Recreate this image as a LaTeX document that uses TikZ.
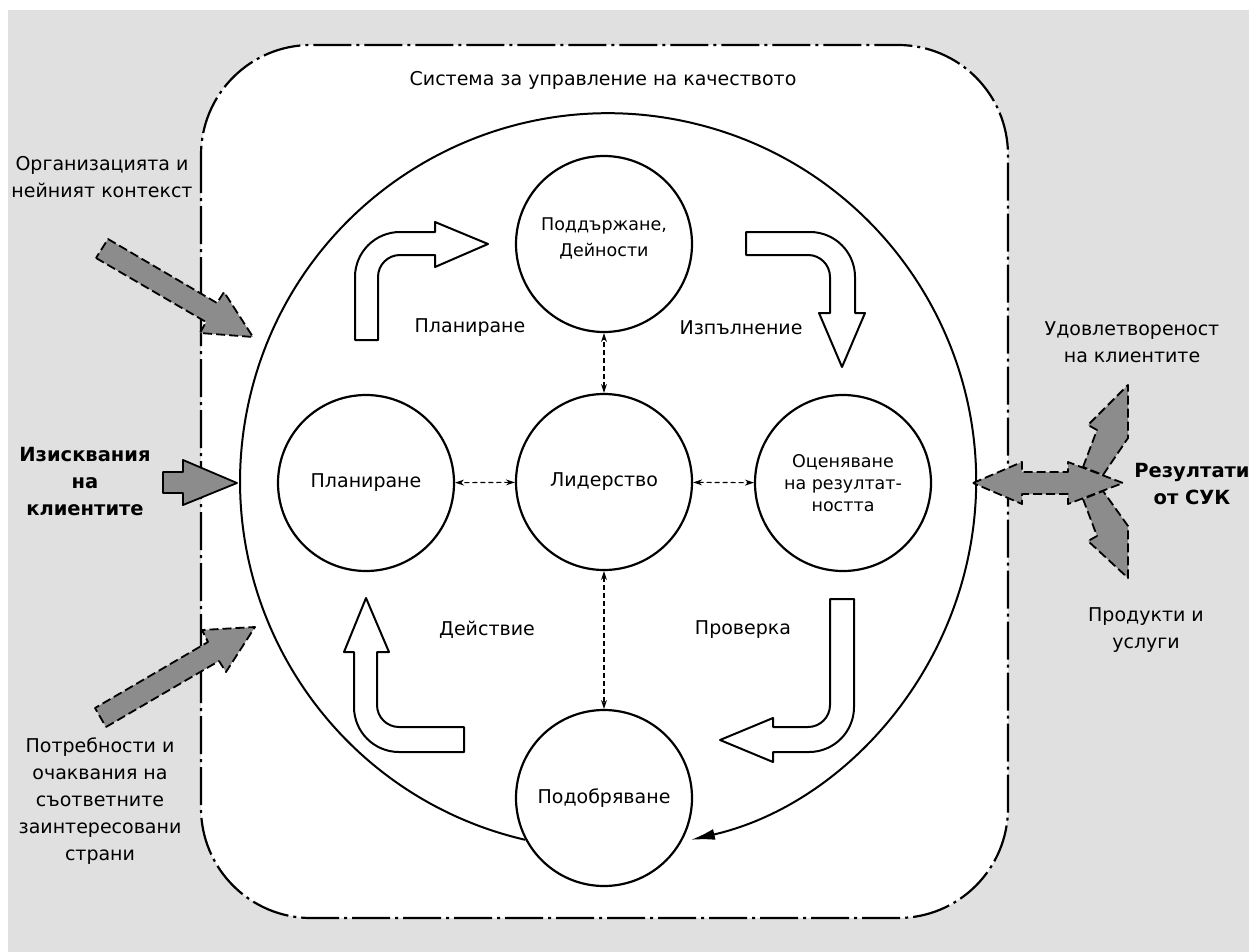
\documentclass[tikz,border=0pt]{standalone}
\usepackage{fontspec}
\setmainfont{DejaVu Sans}
\usetikzlibrary{arrows.meta}

\definecolor{bggrey}{HTML}{E0E0E0}
\definecolor{fatgrey}{HTML}{8C8C8C}

\tikzset{
  stage/.style={circle, draw, line width=2.2pt, minimum size=176pt, inner sep=0pt,
    align=center, font=\fontsize{19}{27}\selectfont},
  smallstage/.style={stage, font=\fontsize{17.5}{22}\selectfont},
  lbl/.style={align=center, inner sep=0pt, font=\fontsize{19}{27}\selectfont},
  smalllbl/.style={lbl, font=\fontsize{17.5}{26}\selectfont},
  boldlbl/.style={lbl, font=\fontsize{19.5}{27}\selectfont\bfseries},
  link/.style={line width=1.1pt, dash pattern=on 5pt off 3pt,
    {Stealth[length=9pt,width=6pt]}-{Stealth[length=9pt,width=6pt]}},
  hollow/.style={draw, fill=white, line width=2pt, line join=round},
  fat/.style={draw, fill=fatgrey, line width=1.8pt, line join=round, dash pattern=on 9pt off 4pt},
  fatsolid/.style={draw, fill=fatgrey, line width=1.8pt, line join=round},
  qmsframe/.style={draw, fill=white, line width=2.2pt, rounded corners=110pt,
    dash pattern=on 38pt off 5pt on 3pt off 5pt},
  cycleline/.style={line width=2pt, -{Latex[length=24pt,width=11pt]}}
}

\begin{document}
\begin{tikzpicture}[x=1pt, y=-1pt]
\useasboundingbox (0,0) rectangle (1249,952);
\fill[white] (0,0) rectangle (1249,952);
\fill[bggrey] (8,10) rectangle (1249,952);

% system frame
\draw[qmsframe] (201,45) rectangle (1008,918);
\node[lbl] (title) at (603,80) {Система за управление на качеството};

% stages
\node[stage] (support) at (604,244) {};
\node[smalllbl] (supporttext) at ([yshift=6pt]support.center) {Поддържане,\\Дейности};
\node[stage] (plan) at (366,483) {Планиране};
\node[stage] (lead) at (604,482) {Лидерство};
\node[smallstage] (eval) at (843,483) {Оценяване\\на резултат-\\ността};
\node[stage] (impr) at (604,798) {Подобряване};

\foreach \a/\b in {lead/support, lead/plan, lead/eval, lead/impr}
  \draw[link] (\a) -- (\b);

% outer cycle
\draw[cycleline] (impr.208) arc[start angle=103, end angle=437, radius=368];

% bent arrows
\draw[hollow] (355,340) -- (355,277) arc[start angle=180, end angle=270, radius=45]
  -- (435,232) -- (435,222) -- (488,244) -- (435,267) -- (435,255) -- (400,255)
  arc[start angle=270, end angle=180, radius=22] -- (378,340) -- cycle;
\draw[hollow] (746,232) -- (810,232) arc[start angle=270, end angle=360, radius=45]
  -- (855,313) -- (865,313) -- (842,367) -- (819,313) -- (830,313) -- (830,277)
  arc[start angle=0, end angle=-90, radius=22] -- (746,255) -- cycle;
\draw[hollow] (830,599) -- (854,599) -- (854,707) arc[start angle=0, end angle=90, radius=45]
  -- (773,752) -- (773,762) -- (720,740) -- (773,718) -- (773,727) -- (808,727)
  arc[start angle=90, end angle=0, radius=22] -- cycle;
\draw[hollow] (464,727) -- (399,727) arc[start angle=90, end angle=180, radius=22]
  -- (377,652) -- (389,652) -- (366,598) -- (344,652) -- (354,652) -- (354,707)
  arc[start angle=180, end angle=90, radius=45] -- (464,752) -- cycle;

\node[lbl] (lplan) at (470,328) {Планиране};
\node[lbl] (ldo) at (741,328) {Изпълнение};
\node[lbl] (lact) at (487,630) {Действие};
\node[lbl] (lcheck) at (743,630) {Проверка};

% inputs
\draw[fat] (96,258) -- (206,322) -- (200,333) -- (253,337) -- (224,292) -- (217,303) -- (108,239) -- cycle;
\draw[fatsolid] (163,472) -- (183,472) -- (183,460) -- (237,483) -- (183,505) -- (183,493) -- (163,493) -- cycle;
\draw[fat] (106,727) -- (219,661) -- (226,672) -- (255,627) -- (202,630) -- (208,642) -- (95,708) -- cycle;

\node[lbl] (context) at (102,177) {Организацията и\\нейният контекст};
\node[boldlbl] (req) at (85,482) {Изисквания\\на\\клиентите};
\node[lbl] (needs) at (100,801) {Потребности и\\очаквания на\\съответните\\заинтересовани\\страни};

% outputs
\draw[fat] (1083,467) -- (1097,430) -- (1088,425) -- (1128,385) -- (1128,438) -- (1103,475) -- cycle;
\draw[fat] (1083,499) -- (1097,536) -- (1088,541) -- (1128,578) -- (1128,526) -- (1103,491) -- cycle;
\draw[fat] (973,483) -- (1022,462) -- (1022,472) -- (1068,472) -- (1068,462) -- (1123,483)
  -- (1068,504) -- (1068,494) -- (1022,494) -- (1022,504) -- cycle;

\node[lbl] (satisf) at (1132,342) {Удовлетвореност\\на клиентите};
\node[boldlbl] (results) at (1192,484) {Резултати\\от СУК};
\node[lbl] (products) at (1146,630) {Продукти и\\услуги};
\end{tikzpicture}
\end{document}
